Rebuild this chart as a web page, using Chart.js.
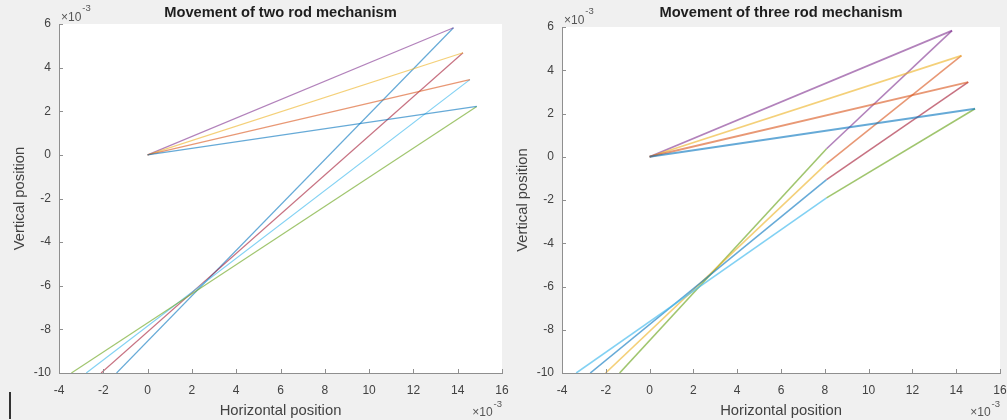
<!DOCTYPE html>
<html>
<head>
<meta charset="utf-8">
<script src="https://cdn.jsdelivr.net/npm/chart.js@4.4.0/dist/chart.umd.min.js"></script>
<style>
  html, body { margin: 0; padding: 0; background: #f0f0f0; }
  body { width: 1007px; height: 420px; position: relative; overflow: hidden; }
  canvas { position: absolute; top: 0; }
  #left { left: 0; }
  #right { left: 503px; }
  .cursor { position: absolute; left: 9px; top: 392px; width: 2px; height: 27px; background: #333; }
</style>
</head>
<body>
<canvas id="left" width="520" height="420"></canvas>
<canvas id="right" width="524" height="420"></canvas>
<div class="cursor"></div>
<script>
// all positions in units of 1e-3
const xTicks = [-4, -2, 0, 2, 4, 6, 8, 10, 12, 14, 16];
const yTicks = [-10, -8, -6, -4, -2, 0, 2, 4, 6];

// first rod: pivot at origin, tip positions for the four poses
const pivotX = 0;
const pivotY = 0;
const tipX = [14.86, 14.55, 14.24, 13.81];
const tipY = [2.22, 3.45, 4.68, 5.83];

// two rod mechanism: second rod ends on the floor
const floorY = -10;
const twoRodEndX = [-3.44, -2.77, -2.10, -1.40];

// three rod mechanism: middle joint, then third rod to the floor
const midX = [8.08, 8.08, 8.08, 8.08];
const midY = [-1.90, -1.06, -0.32, 0.37];
const threeRodEndX = [-3.35, -2.71, -2.01, -1.37];

const blue = 'rgba(0, 114, 189, 0.6)';
const orange = 'rgba(217, 83, 25, 0.6)';
const yellow = 'rgba(237, 177, 32, 0.6)';
const purple = 'rgba(126, 47, 142, 0.6)';
const green = 'rgba(119, 172, 48, 0.7)';
const lightBlue = 'rgba(77, 190, 238, 0.7)';
const darkRed = 'rgba(162, 20, 47, 0.6)';

const rod1Colors = [blue, orange, yellow, purple];
const twoRod2Colors = [green, lightBlue, darkRed, blue];
const threeRod2Colors = [green, darkRed, orange, purple];
const threeRod3Colors = [lightBlue, blue, yellow, green];

const fontFamily = '"Liberation Sans", Arial, sans-serif';
const axisColor = '#8f8f8f';
const textColor = '#424242';

function seg(x1, y1, x2, y2, color, width) {
  return {
    data: [{x: x1, y: y1}, {x: x2, y: y2}],
    showLine: true,
    borderColor: color,
    borderWidth: width,
    pointRadius: 0,
    fill: false
  };
}

// white plot area
const plotBg = {
  id: 'plotBg',
  beforeDraw(chart) {
    const {ctx, chartArea: a} = chart;
    ctx.save();
    ctx.fillStyle = '#ffffff';
    ctx.fillRect(a.left, a.top, a.right - a.left, a.bottom - a.top);
    ctx.restore();
  }
};

// matlab style ticks pointing inward + exponent labels
const innerTicks = {
  id: 'innerTicks',
  afterDatasetsDraw(chart) {
    const {ctx, chartArea: a, scales: {x, y}} = chart;
    ctx.save();
    ctx.strokeStyle = axisColor;
    ctx.lineWidth = 1;
    ctx.beginPath();
    x.ticks.forEach(t => {
      const px = Math.round(x.getPixelForValue(t.value)) + 0.5;
      ctx.moveTo(px, a.bottom);
      ctx.lineTo(px, a.bottom - 4);
    });
    y.ticks.forEach(t => {
      const py = Math.round(y.getPixelForValue(t.value)) + 0.5;
      ctx.moveTo(a.left, py);
      ctx.lineTo(a.left + 4, py);
    });
    ctx.stroke();

    ctx.fillStyle = '#555';
    ctx.textBaseline = 'alphabetic';
    ctx.textAlign = 'left';
    // y exponent
    ctx.font = '12px ' + fontFamily;
    ctx.fillText('\u00d710', a.left + 2, a.top - 3);
    let w = ctx.measureText('\u00d710').width;
    ctx.font = '9.5px ' + fontFamily;
    ctx.fillText('-3', a.left + 3 + w, a.top - 13);
    // x exponent
    ctx.font = '9.5px ' + fontFamily;
    const sw = ctx.measureText('-3').width;
    ctx.fillText('-3', a.right - sw, 407);
    ctx.font = '12px ' + fontFamily;
    w = ctx.measureText('\u00d710').width;
    ctx.fillText('\u00d710', a.right - sw - 1 - w, 416);
    ctx.restore();
  }
};

function makeChart(id, titleText, datasets, padRight, areaTop) {
  const titleFont = {family: fontFamily, size: 14.7, weight: 'bold'};
  const titleH = titleFont.size * 1.2;
  return new Chart(document.getElementById(id), {
    type: 'scatter',
    data: {datasets: datasets},
    options: {
      responsive: false,
      animation: false,
      layout: {padding: {left: 0, right: padRight, top: 0, bottom: 0}},
      scales: {
        x: {
          type: 'linear',
          min: xTicks[0],
          max: xTicks[xTicks.length - 1],
          afterBuildTicks: s => { s.ticks = xTicks.map(v => ({value: v})); },
          afterFit: s => { s.height = 47; },
          grid: {display: false, drawTicks: false},
          border: {display: true, color: axisColor, width: 1},
          ticks: {color: textColor, padding: 10, maxRotation: 0, font: {family: fontFamily, size: 12}},
          title: {display: true, text: 'Horizontal position', color: textColor,
            font: {family: fontFamily, size: 14.8}, padding: {top: 0, bottom: 0}}
        },
        y: {
          type: 'linear',
          min: yTicks[0],
          max: yTicks[yTicks.length - 1],
          afterBuildTicks: s => { s.ticks = yTicks.map(v => ({value: v})); },
          afterFit: s => { s.width = 59; },
          grid: {display: false, drawTicks: false},
          border: {display: true, color: axisColor, width: 1},
          ticks: {color: textColor, padding: 8, font: {family: fontFamily, size: 12}},
          title: {display: true, text: 'Vertical position', color: textColor,
            font: {family: fontFamily, size: 14.8}, padding: {top: 11, bottom: 0}}
        }
      },
      plugins: {
        legend: {display: false},
        tooltip: {enabled: false},
        title: {
          display: true,
          text: titleText,
          color: '#1e1e1e',
          fullSize: false,
          font: titleFont,
          padding: {top: 4, bottom: areaTop - 4 - titleH}
        }
      }
    },
    plugins: [plotBg, innerTicks]
  });
}

const twoRod = [];
for (let i = 0; i < tipX.length; i++) {
  twoRod.push(seg(pivotX, pivotY, tipX[i], tipY[i], rod1Colors[i], 1.2));
}
for (let i = 0; i < tipX.length; i++) {
  twoRod.push(seg(tipX[i], tipY[i], twoRodEndX[i], floorY, twoRod2Colors[i], 1.2));
}

const threeRod = [];
for (let i = 0; i < tipX.length; i++) {
  threeRod.push(seg(pivotX, pivotY, tipX[i], tipY[i], rod1Colors[i], 1.8));
}
for (let i = 0; i < tipX.length; i++) {
  threeRod.push(seg(tipX[i], tipY[i], midX[i], midY[i], threeRod2Colors[i], 1.6));
}
for (let i = 0; i < tipX.length; i++) {
  threeRod.push(seg(midX[i], midY[i], threeRodEndX[i], floorY, threeRod3Colors[i], 1.6));
}

makeChart('left', 'Movement of two rod mechanism', twoRod, 18, 24);
makeChart('right', 'Movement of three rod mechanism', threeRod, 27, 27);
</script>
</body>
</html>
